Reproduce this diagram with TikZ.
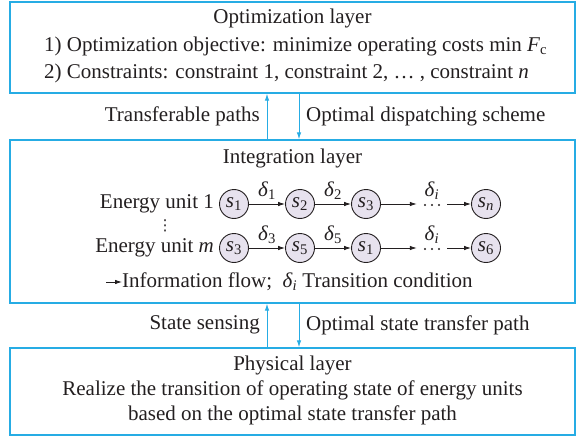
\documentclass[tikz,border=0pt]{standalone}
\usepackage{fontspec}
\setmainfont{Liberation Serif}
\newfontfamily\symfont{DejaVu Sans}
\usetikzlibrary{arrows.meta,positioning}
\definecolor{layerblue}{RGB}{38,172,228}
\definecolor{statefill}{RGB}{231,226,238}
\definecolor{inkgray}{RGB}{35,31,32}
\newcommand{\sv}[2]{\textit{#1}\textsubscript{#2}}

\begin{document}
\begin{tikzpicture}[x=1pt, y=-1pt,
    font=\fontsize{21}{27}\selectfont, text=inkgray,
    layer/.style={rectangle, draw=layerblue, line width=1.2pt, minimum width=565pt, inner sep=0pt},
    state/.style={circle, draw=inkgray, fill=statefill, minimum size=29pt, inner sep=0pt, line width=0.9pt},
    link/.style={draw=layerblue, line width=1pt, -{Latex[length=7pt,width=4.5pt]}},
    flow/.style={draw=inkgray, line width=0.8pt, -{Latex[length=7pt,width=4.5pt]}},
    lbl/.style={inner sep=0pt},
    cond/.style={inner sep=0pt, above=4pt},
    dots/.style={minimum width=30pt, minimum height=4pt, inner sep=0pt,
        path picture={\foreach \dx in {-7,0,7}
            \fill[inkgray] ([xshift=\dx pt]path picture bounding box.center) circle (1.1pt);}}
]
\useasboundingbox (0,0) rectangle (576,436);

% Layers
\node[layer, minimum height=91pt] (opt) at (292.5,47.5) {};
\node[layer, minimum height=163pt] (integ) at (292.5,221.5) {};
\node[layer, minimum height=87pt] (phys) at (292.5,391.5) {};

% Optimization layer
\node[lbl] (optT) at (292.5,18) {Optimization layer};
\node[lbl, anchor=west] (obj) at (44,46) {1) Optimization objective: minimize operating costs min \textit{F}\textsubscript{c}};
\node[lbl, anchor=west] (con) at (44,73) {2) Constraints: constraint 1, constraint 2, … , constraint \textit{n}};

% Links between layers
\coordinate (upx) at (267,0);
\coordinate (dnx) at (299,0);
\draw[link] (upx |- integ.north) -- (upx |- opt.south);
\draw[link] (dnx |- opt.south) -- (dnx |- integ.north);
\node[lbl, anchor=east] (tp) at (260,116) {Transferable paths};
\node[lbl, anchor=west] (ods) at (306,116) {Optimal dispatching scheme};

\draw[link] (upx |- phys.north) -- (upx |- integ.south);
\draw[link] (dnx |- integ.south) -- (dnx |- phys.north);
\node[lbl, anchor=east] (ss) at (260,325) {State sensing};
\node[lbl, anchor=west] (ostp) at (306,325) {Optimal state transfer path};

% Integration layer
\node[lbl] (intT) at (292.5,158) {Integration layer};

% Energy unit 1
\node[state] (a1) at (234,204) {\sv{s}{1}};
\node[state] (a2) at (300,204) {\sv{s}{2}};
\node[state] (a3) at (366,204) {\sv{s}{3}};
\node[dots] (adots) at (432,205) {};
\node[state] (an) at (486,204) {\sv{s}{\textit{n}}};
\node[lbl, left=5pt of a1] (eu1) {Energy unit 1};

\draw[flow] (a1) -- (a2) node[midway, cond] {\sv{δ}{1}};
\draw[flow] (a2) -- (a3) node[midway, cond] {\sv{δ}{2}};
\draw[flow] (a3) -- (adots.west |- a3);
\draw[flow] (adots.east |- an) -- (an);
\node[cond] (adi) at (adots.center |- a3) {\sv{δ}{\textit{i}}};

% Energy unit m
\node[state] (b1) at (234,248) {\sv{s}{3}};
\node[state] (b2) at (300,248) {\sv{s}{5}};
\node[state] (b3) at (366,248) {\sv{s}{1}};
\node[dots] (bdots) at (432,249) {};
\node[state] (bn) at (486,248) {\sv{s}{6}};
\node[lbl, left=5pt of b1] (eum) {Energy unit \textit{m}};
\node[lbl, font=\symfont\fontsize{15}{15}\selectfont] (vd) at (165,226) {⋮};

\draw[flow] (b1) -- (b2) node[midway, cond] {\sv{δ}{3}};
\draw[flow] (b2) -- (b3) node[midway, cond] {\sv{δ}{5}};
\draw[flow] (b3) -- (bdots.west |- b3);
\draw[flow] (bdots.east |- bn) -- (bn);
\node[cond] (bdi) at (bdots.center |- b3) {\sv{δ}{\textit{i}}};

% Legend
\node[lbl, anchor=west] (legT) at (122,282) {Information flow;\ \ \sv{δ}{\textit{i}} Transition condition};
\coordinate[left=16pt of legT.west] (legS);
\draw[flow] (legS) -- (legT.west);

% Physical layer
\node[lbl, align=center, font=\fontsize{21}{25}\selectfont] (physT) at (292.5,390) {Physical layer\\Realize the transition of operating state of energy units\\based on the optimal state transfer path};

\end{tikzpicture}
\end{document}
